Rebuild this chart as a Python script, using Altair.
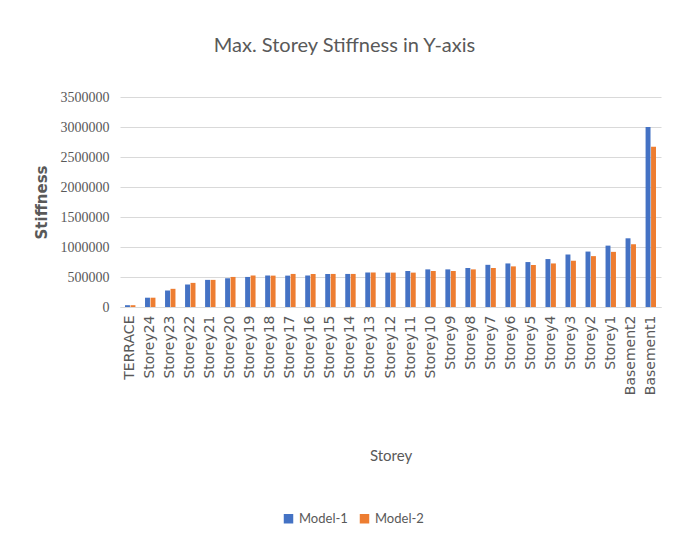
import altair as alt
import pandas as pd

storeys = ["TERRACE", "Storey24", "Storey23", "Storey22", "Storey21", "Storey20", "Storey19",
           "Storey18", "Storey17", "Storey16", "Storey15", "Storey14", "Storey13", "Storey12",
           "Storey11", "Storey10", "Storey9", "Storey8", "Storey7", "Storey6", "Storey5",
           "Storey4", "Storey3", "Storey2", "Storey1", "Basement2", "Basement1"]
model1 = [30000, 155000, 275000, 375000, 452000, 479000, 501000, 523000, 523000, 523000,
          551000, 551000, 573000, 573000, 600000, 627000, 627000, 650000, 703000, 726000,
          749000, 799000, 875000, 924000, 1023000, 1145000, 3000000]
model2 = [30000, 155000, 303000, 402000, 452000, 501000, 523000, 523000, 551000, 551000,
          551000, 551000, 573000, 573000, 573000, 600000, 600000, 627000, 650000, 677000,
          700000, 726000, 771000, 848000, 919000, 1046000, 2670000]
series = ["Model-1", "Model-2"]
colors = ["#4472C4", "#ED7D31"]
y_ticks = [0, 500000, 1000000, 1500000, 2000000, 2500000, 3000000, 3500000]

rows = []
for s, m1, m2 in zip(storeys, model1, model2):
    rows.append({"Storey": s, "Model": series[0], "Stiffness": m1})
    rows.append({"Storey": s, "Model": series[1], "Stiffness": m2})
df = pd.DataFrame(rows)

chart = alt.Chart(df).mark_bar().encode(
    x=alt.X("Storey:N", sort=storeys,
            scale=alt.Scale(paddingInner=0.48, paddingOuter=0.25),
            axis=alt.Axis(title="Storey", labelAngle=-90, labelAlign="right", labelBaseline="middle",
                          ticks=False, domainColor="#d9d9d9", labelColor="#595959",
                          labelFont="DejaVu Sans", labelFontSize=14, labelPadding=8,
                          titleFont="Lato", titleFontSize=15, titleFontWeight="normal",
                          titleColor="#595959", titleY=148, titleBaseline="middle")),
    xOffset=alt.XOffset("Model:N", sort=series, scale=alt.Scale(paddingInner=0.1)),
    y=alt.Y("Stiffness:Q", scale=alt.Scale(domain=[0, 3500000]),
            axis=alt.Axis(title="Stiffness", values=y_ticks, format="d", domain=False, ticks=False,
                          gridColor="#d9d9d9", labelColor="#595959", labelFont="Liberation Sans Narrow",
                          labelFontSize=14, labelPadding=11,
                          titleFont="DejaVu Sans", titleFontSize=15, titleFontWeight="bold",
                          titleColor="#595959", titleX=-79, titleBaseline="middle")),
    color=alt.Color("Model:N", sort=series, scale=alt.Scale(domain=series, range=colors),
                    legend=alt.Legend(title=None, orient="none", direction="horizontal",
                                      legendX=162, legendY=415,
                                      symbolType="square", symbolSize=90, labelFont="Lato",
                                      labelFontSize=13, labelColor="#595959",
                                      columnPadding=10)),
).properties(
    width=541, height=210,
    padding={"left": 26, "top": 28, "right": 5, "bottom": 5},
    title=alt.TitleParams("Max. Storey Stiffness in Y-axis", font="Lato", fontSize=20,
                          fontWeight="normal", color="#595959", offset=34, anchor="middle",
                          dx=-46),
    background="white",
).configure_view(stroke=None)

chart.save("out.html", embed_options={"renderer": "svg", "actions": False})
